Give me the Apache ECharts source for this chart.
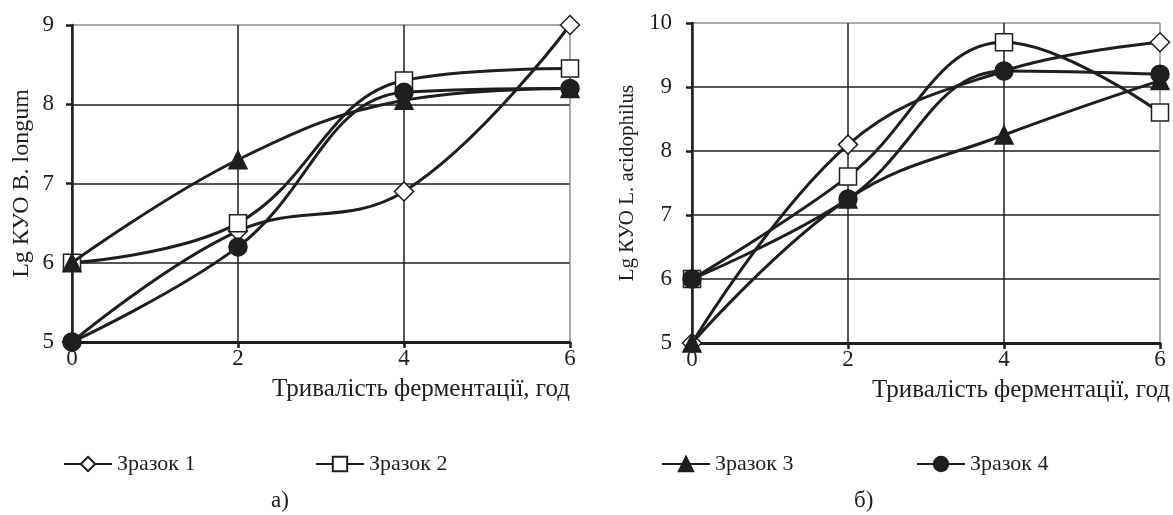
<!DOCTYPE html>
<html>
<head>
<meta charset="utf-8">
<script src="https://cdn.jsdelivr.net/npm/echarts@6/dist/echarts.min.js"></script>
<style>
  html, body { margin: 0; padding: 0; background: #fff; }
  #chart { width: 1173px; height: 515px; }
</style>
</head>
<body>
<div id="chart"></div>
<script>
// Тривалість ферментації, год
var hours = [0, 2, 4, 6];

// a) Lg КУО B. longum
var longum1 = [5, 6.4, 6.9, 9];
var longum2 = [6, 6.5, 8.3, 8.45];
var longum3 = [6, 7.3, 8.05, 8.2];
var longum4 = [5, 6.2, 8.15, 8.2];

// б) Lg КУО L. acidophilus
var acid1 = [5, 8.1, 9.25, 9.7];
var acid2 = [6, 7.6, 9.7, 8.6];
var acid3 = [5, 7.25, 8.25, 9.1];
var acid4 = [6, 7.25, 9.25, 9.2];

var sampleNames = ['Зразок 1', 'Зразок 2', 'Зразок 3', 'Зразок 4'];
var xTicks = [0, 2, 4, 6];
var yTicksA = [5, 6, 7, 8, 9];
var yTicksB = [5, 6, 7, 8, 9, 10];

var font = '"Liberation Serif", "Times New Roman", serif';
var ink = '#1e1e1e';

function pairs(ys) {
	return hours.map(function(h, i) { return [h, ys[i]]; });
}

var markers = [
	{ symbol: 'diamond', size: 19, fill: '#fff' },
	{ symbol: 'rect', size: 17, fill: '#fff' },
	{ symbol: 'triangle', size: 18, fill: ink },
	{ symbol: 'circle', size: 18, fill: ink }
];

function makeSeries(idx, values, gridIdx) {
	var m = markers[idx];
	return {
		name: sampleNames[idx],
		type: 'line',
		xAxisIndex: gridIdx,
		yAxisIndex: gridIdx,
		smooth: 0.4,
		data: pairs(values),
		symbol: m.symbol,
		symbolSize: m.size,
		showAllSymbol: true,
		lineStyle: { color: ink, width: 3 },
		itemStyle: { color: m.fill, borderColor: ink, borderWidth: 1.5 },
		z: 3 + idx
	};
}

function xAxisConf(gridIdx, nameShift) {
	return {
		type: 'value',
		gridIndex: gridIdx,
		min: 0, max: 6, interval: 2,
		name: 'Тривалість ферментації, год',
		nameLocation: 'end',
		nameGap: nameShift,
		nameTextStyle: {
			fontFamily: font, fontSize: 25, color: ink,
			align: 'right', verticalAlign: 'top', padding: [35, 0, 0, 0]
		},
		axisLine: { onZero: false, lineStyle: { color: ink, width: 3 } },
		axisTick: { show: true, inside: false, length: 6, lineStyle: { color: ink, width: 2.5 } },
		axisLabel: {
			fontFamily: font, fontSize: 23, color: ink, margin: 5,
			formatter: function(v) { return xTicks.indexOf(v) >= 0 ? String(v) : ''; }
		},
		splitLine: { show: true, lineStyle: { color: [ink, ink, ink, '#8c8c8c'], width: 1.5 } }
	};
}

function yAxisConf(gridIdx, max, ticks, title, gap, labelMargin, titleSize) {
	var split = ticks.map(function(t) { return t === max ? '#8c8c8c' : ink; });
	return {
		type: 'value',
		gridIndex: gridIdx,
		min: 5, max: max, interval: 1,
		name: title,
		nameLocation: 'middle',
		nameGap: gap,
		nameRotate: 90,
		nameTextStyle: { fontFamily: font, fontSize: titleSize, color: ink },
		axisLine: { onZero: false, lineStyle: { color: ink, width: 2.5 } },
		axisTick: { show: true, inside: false, length: 6, lineStyle: { color: ink, width: 2.5 } },
		axisLabel: { fontFamily: font, fontSize: 23, color: ink, margin: labelMargin },
		splitLine: { show: true, lineStyle: { color: split, width: 1.5 } }
	};
}

function legendAt(name, left) {
	return {
		data: [name],
		left: left,
		top: 448,
		itemWidth: 48,
		itemHeight: 18,
		itemGap: 0,
		selectedMode: false,
		textStyle: { fontFamily: font, fontSize: 22, color: ink, padding: [0, 0, 0, 0] }
	};
}

var chart = echarts.init(document.getElementById('chart'), null, { renderer: 'canvas' });

chart.setOption({
	backgroundColor: '#ffffff',
	animation: false,
	title: [
		{ text: 'а)', left: 266, top: 484, textStyle: { fontFamily: font, fontSize: 23, fontWeight: 'normal', color: ink } },
		{ text: 'б)', left: 849, top: 484, textStyle: { fontFamily: font, fontSize: 23, fontWeight: 'normal', color: ink } }
	],
	legend: [
		legendAt('Зразок 1', 58),
		legendAt('Зразок 2', 310),
		legendAt('Зразок 3', 656),
		legendAt('Зразок 4', 911)
	],
	grid: [
		{ left: 72, top: 25, width: 498, height: 317 },
		{ left: 692, top: 23, width: 468, height: 320 }
	],
	xAxis: [xAxisConf(0, 0), xAxisConf(1, 10)],
	yAxis: [
		yAxisConf(0, 9, yTicksA, 'Lg КУО B. longum', 38, 18, 24),
		yAxisConf(1, 10, yTicksB, 'Lg КУО L. acidophilus', 54, 20, 21)
	],
	series: [
		makeSeries(0, longum1, 0),
		makeSeries(1, longum2, 0),
		makeSeries(2, longum3, 0),
		makeSeries(3, longum4, 0),
		makeSeries(0, acid1, 1),
		makeSeries(1, acid2, 1),
		makeSeries(2, acid3, 1),
		makeSeries(3, acid4, 1)
	]
});
</script>
</body>
</html>
